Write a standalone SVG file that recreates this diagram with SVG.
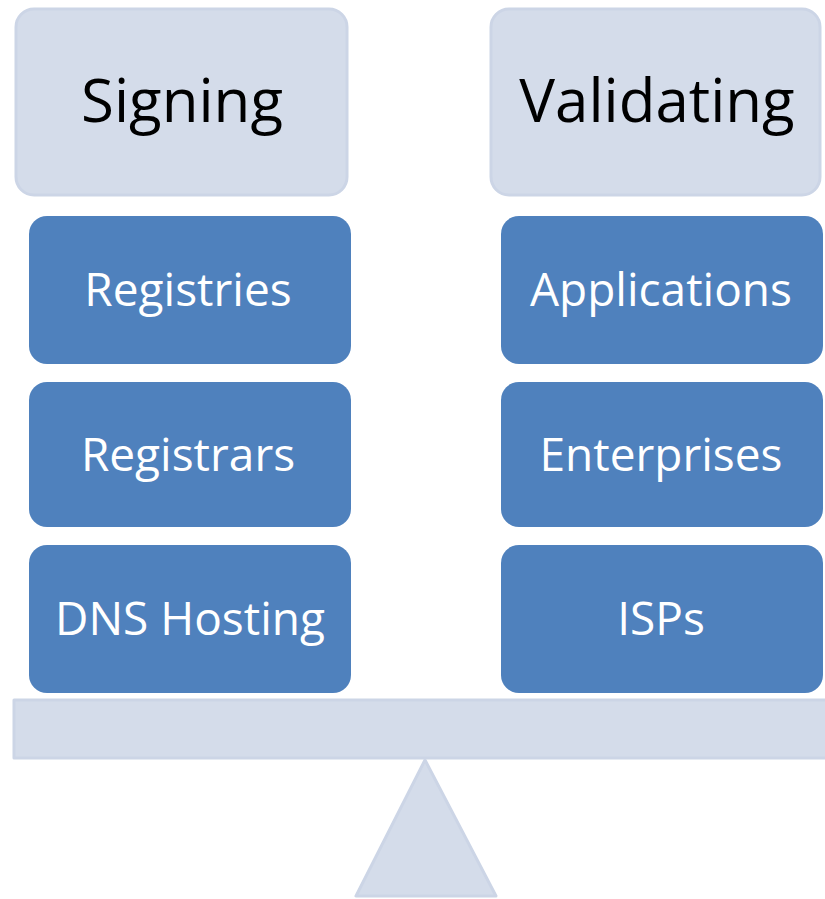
<svg xmlns="http://www.w3.org/2000/svg" width="825" height="899" viewBox="0 0 825 899">
<style>
.hdr{fill:#D4DCEA;stroke:#CCD5E6;stroke-width:3}
.item{fill:#4F81BD}
.ht{font-family:"Open Sans","Noto Sans",sans-serif;font-size:60px;fill:#000;text-anchor:middle}
.it{font-family:"Open Sans","Noto Sans",sans-serif;font-size:46px;fill:#fff;text-anchor:middle}
.base{fill:#D4DCEA;stroke:#CCD5E6;stroke-width:3;stroke-linejoin:round}
</style>
<rect width="825" height="899" fill="#fff"/>
<g id="signing"><rect class="hdr" x="16" y="9" width="331" height="186" rx="18"/><text class="ht" x="182" y="122">Signing</text></g>
<g id="validating"><rect class="hdr" x="491" y="9" width="329" height="186" rx="18"/><text class="ht" x="657" y="122">Validating</text></g>
<g id="registries"><rect class="item" x="29" y="216" width="322" height="148" rx="18"/><text class="it" x="188" y="306">Registries</text></g>
<g id="registrars"><rect class="item" x="29" y="382" width="322" height="145" rx="18"/><text class="it" x="188" y="471">Registrars</text></g>
<g id="dns-hosting"><rect class="item" x="29" y="545" width="322" height="148" rx="18"/><text class="it" x="190" y="635">DNS Hosting</text></g>
<g id="applications"><rect class="item" x="501" y="216" width="322" height="148" rx="18"/><text class="it" x="661" y="306">Applications</text></g>
<g id="enterprises"><rect class="item" x="501" y="382" width="322" height="145" rx="18"/><text class="it" x="661" y="471">Enterprises</text></g>
<g id="isps"><rect class="item" x="501" y="545" width="322" height="148" rx="18"/><text class="it" x="661" y="635">ISPs</text></g>
<g id="beam"><rect class="base" x="14" y="700" width="814" height="58"/></g>
<g id="fulcrum"><polygon class="base" points="425,760 356,896 496,896"/></g>
<g id="connectors"></g>
</svg>
